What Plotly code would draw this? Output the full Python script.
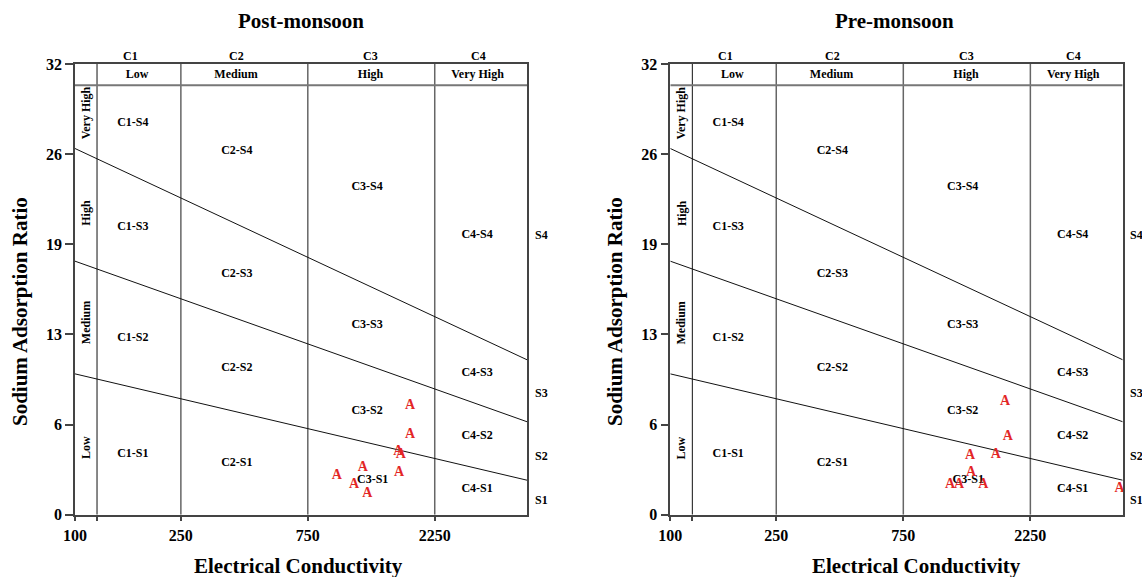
import numpy as np
import plotly.graph_objects as go

# ---------------- data ----------------
post_ec = [1817, 1817, 1642, 1676, 1206, 963, 1652, 1119, 1256]
post_sar = [7.74, 5.66, 4.47, 4.24, 3.37, 2.75, 2.98, 2.18, 1.52]
pre_ec = [1808, 1851, 1336, 1669, 1348, 1124, 1215, 1499, 4862]
pre_sar = [8.02, 5.54, 4.17, 4.24, 2.98, 2.11, 2.11, 2.18, 1.87]

ec_ends = [100, 5000]
s34_line = [26, 11]
s23_line = [18, 6.6]
s12_line = [10, 2.45]
class_bounds = [250, 750, 2250]
header_sar = 30.5
label_col_ec = 121

x_tickvals = [100, label_col_ec, 250, 750, 2250]
x_ticktext = ["100", "", "250", "750", "2250"]
y_tickvals = [0, 6.4, 12.8, 19.2, 25.6, 32]
y_ticktext = ["0", "6", "13", "19", "26", "32"]

c_labels = ["C1", "C2", "C3", "C4"]
c_names = ["Low", "Medium", "High", "Very High"]
c_label_ec = [161, 406, 1290, 3280]
c_name_ec = [171, 403, 1290, 3260]

zone_labels = ["C1-S4", "C2-S4", "C3-S4", "C4-S4",
               "C1-S3", "C2-S3", "C3-S3", "C4-S3",
               "C1-S2", "C2-S2", "C3-S2", "C4-S2",
               "C1-S1", "C2-S1", "C3-S1", "C4-S1"]
zone_ec = [165, 406, 1253, 3245,
           165, 406, 1253, 3245,
           165, 406, 1253, 3245,
           165, 406, 1315, 3245]
zone_sar = [27.83, 25.82, 23.3, 19.86,
            20.45, 17.09, 13.45, 10.06,
            12.56, 10.4, 7.38, 5.6,
            4.31, 3.67, 2.46, 1.82]

s_labels = ["S4", "S3", "S2", "S1"]
s_label_ec = 5649
s_label_sar = [19.86, 8.65, 4.19, 1.05]

sodium_names = ["Very High", "High", "Medium", "Low"]
sodium_name_sar = [28.5, 21.44, 13.6, 4.73]
sodium_name_ec = 110

EC_MIN, EC_MAX = 100, 5000
SAR_MAX = 32

FONT = "Liberation Serif, Times New Roman, serif"
W, H = 1142, 577

fig = go.Figure()

panels = [
    ("x", "y", post_ec, post_sar, "Post-monsoon"),
    ("x2", "y2", pre_ec, pre_sar, "Pre-monsoon"),
]

bold12 = dict(family=FONT, size=12, color="black", weight="bold")


def ec_to_domain(e):
    return (np.log10(e) - np.log10(EC_MIN)) / (np.log10(EC_MAX) - np.log10(EC_MIN))


for xa, ya, ec, sar, name in panels:
    # salinity-class boundaries
    for b in class_bounds:
        fig.add_trace(go.Scatter(x=[b, b], y=[0, SAR_MAX], mode="lines",
                                 line=dict(color="#666666", width=1.5),
                                 xaxis=xa, yaxis=ya, hoverinfo="skip"))
    # label column line
    fig.add_trace(go.Scatter(x=[label_col_ec, label_col_ec], y=[0, SAR_MAX], mode="lines",
                             line=dict(color="#111111", width=1),
                             xaxis=xa, yaxis=ya, hoverinfo="skip"))
    # header line
    fig.add_trace(go.Scatter(x=ec_ends, y=[header_sar, header_sar], mode="lines",
                             line=dict(color="#777777", width=2),
                             xaxis=xa, yaxis=ya, hoverinfo="skip"))
    # sodium hazard lines
    for ln in (s34_line, s23_line, s12_line):
        fig.add_trace(go.Scatter(x=ec_ends, y=ln, mode="lines",
                                 line=dict(color="#111111", width=1),
                                 xaxis=xa, yaxis=ya, hoverinfo="skip"))
    # zone labels
    fig.add_trace(go.Scatter(x=zone_ec, y=zone_sar, mode="text", text=zone_labels,
                             textfont=bold12,
                             xaxis=xa, yaxis=ya, cliponaxis=False, hoverinfo="skip"))
    # header names
    fig.add_trace(go.Scatter(x=c_name_ec, y=[31.22] * 4, mode="text", text=c_names,
                             textfont=bold12,
                             xaxis=xa, yaxis=ya, cliponaxis=False, hoverinfo="skip"))
    # samples
    fig.add_trace(go.Scatter(x=ec, y=sar, mode="text", text=["A"] * len(ec),
                             textfont=dict(family=FONT, size=14, color="#e32626", weight="bold"),
                             xaxis=xa, yaxis=ya, cliponaxis=False, name=name))
    # class labels above the box
    for lab, e in zip(c_labels, c_label_ec):
        fig.add_annotation(x=np.log10(e), y=32.55 / SAR_MAX, xref=xa, yref=ya + " domain",
                           text=lab, showarrow=False, font=bold12, yanchor="middle")
    # S labels outside right
    for lab, s in zip(s_labels, s_label_sar):
        fig.add_annotation(x=ec_to_domain(s_label_ec), y=s, xref=xa + " domain", yref=ya,
                           text=lab, showarrow=False, font=bold12,
                           xanchor="center", yanchor="middle")
    # rotated sodium class names
    for nm, s in zip(sodium_names, sodium_name_sar):
        fig.add_annotation(x=np.log10(sodium_name_ec), y=s, xref=xa, yref=ya, text=nm,
                           textangle=-90, showarrow=False, font=bold12)


def px_x(p):
    return p / W


def px_y(p):
    return (H - p) / H


axis_common = dict(showgrid=False, zeroline=False, showline=True, mirror=True,
                   automargin=False,
                   linecolor="#444444", linewidth=1.5, ticks="outside",
                   tickcolor="#444444", tickwidth=1.5,
                   tickfont=dict(family=FONT, size=16, color="black", weight="bold"))

ydom = [px_y(514.7), px_y(64)]
xr = [np.log10(EC_MIN), np.log10(EC_MAX)]
fig.update_layout(
    width=W, height=H, margin=dict(l=0, r=0, t=0, b=0),
    paper_bgcolor="white", plot_bgcolor="white", showlegend=False,
    xaxis=dict(type="log", range=xr, domain=[px_x(75), px_x(527)],
               tickvals=x_tickvals, ticktext=x_ticktext, ticklen=5, anchor="y", **axis_common),
    yaxis=dict(range=[0, SAR_MAX], domain=ydom, tickvals=y_tickvals, ticktext=y_ticktext,
               ticklen=8, anchor="x", **axis_common),
    xaxis2=dict(type="log", range=xr, domain=[px_x(670.3), px_x(1122.7)],
                tickvals=x_tickvals, ticktext=x_ticktext, ticklen=5, anchor="y2", **axis_common),
    yaxis2=dict(range=[0, SAR_MAX], domain=ydom, tickvals=y_tickvals, ticktext=y_ticktext,
                ticklen=8, anchor="x2", **axis_common),
)

title_font = dict(family=FONT, size=21, color="black", weight="bold")
for txt, x in [("Post-monsoon", 301), ("Pre-monsoon", 894)]:
    fig.add_annotation(x=px_x(x), y=px_y(21), xref="paper", yref="paper", text=txt,
                       showarrow=False, font=title_font, xanchor="center", yanchor="middle")
for x in (298, 916):
    fig.add_annotation(x=px_x(x), y=px_y(566), xref="paper", yref="paper",
                       text="Electrical Conductivity", showarrow=False, font=title_font,
                       xanchor="center", yanchor="middle")
for x in (20, 615):
    fig.add_annotation(x=px_x(x), y=px_y(312), xref="paper", yref="paper",
                       text="Sodium Adsorption Ratio", showarrow=False, font=title_font,
                       textangle=-90, xanchor="center", yanchor="middle")

fig.write_html("out.html")
